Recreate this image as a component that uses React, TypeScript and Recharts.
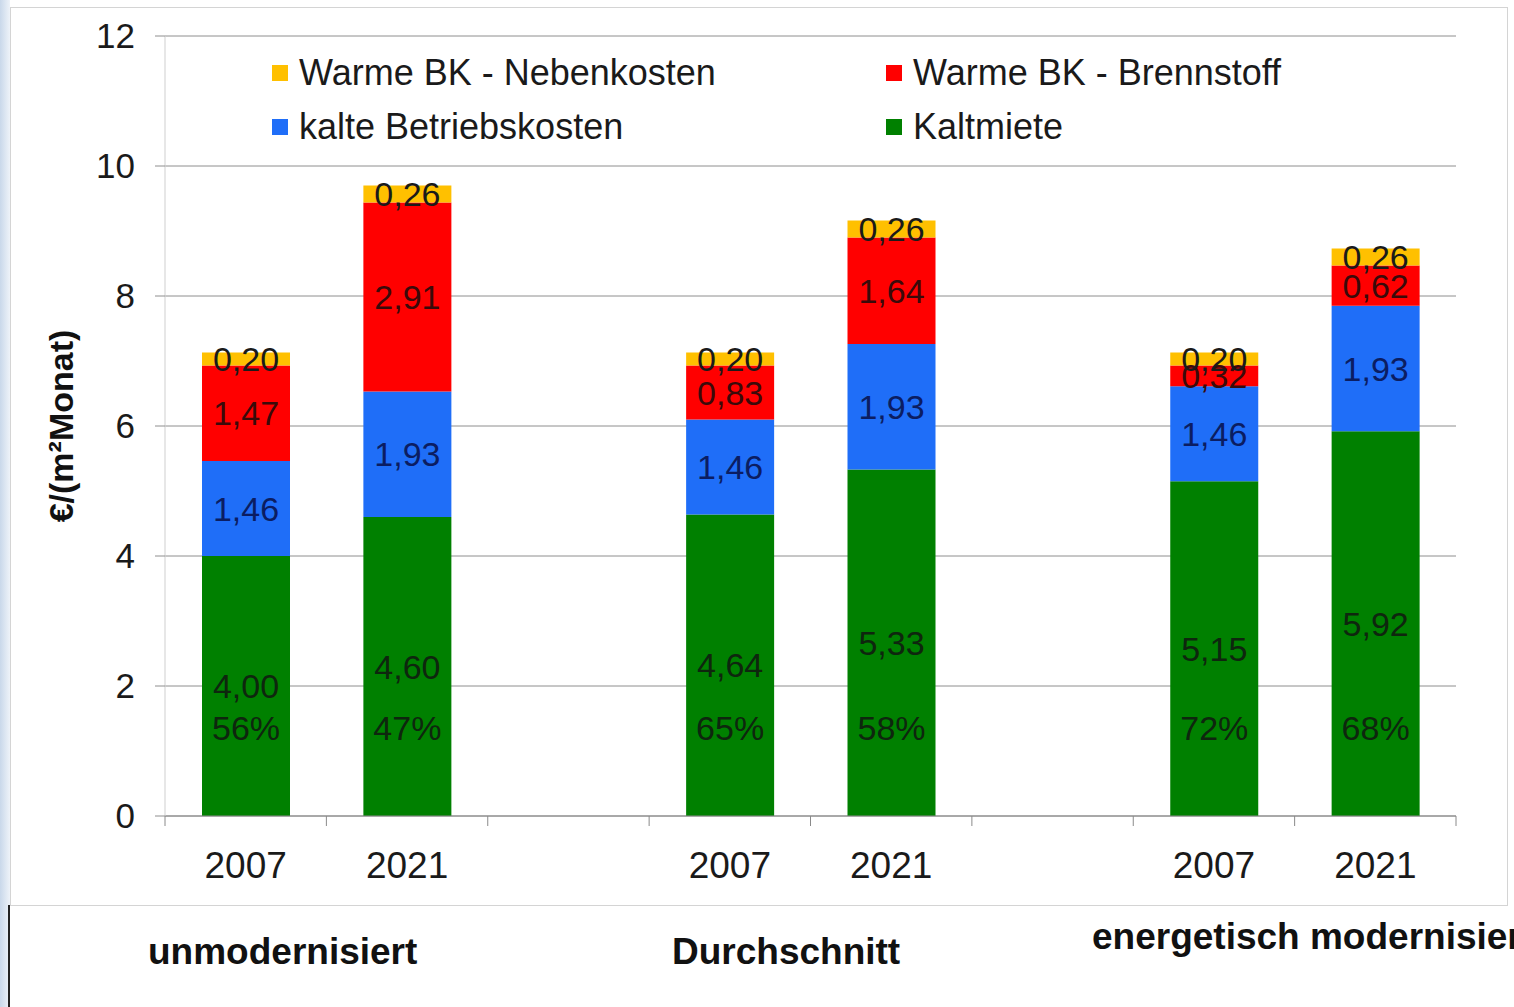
import { BarChart, Bar, XAxis, YAxis, CartesianGrid, Legend, LabelList } from "recharts";

const years = ["2007", "2021", "", "2007", "2021", "", "2007", "2021"];
const kaltmiete = [4.0, 4.6, null, 4.64, 5.33, null, 5.15, 5.92];
const kalteBK = [1.46, 1.93, null, 1.46, 1.93, null, 1.46, 1.93];
const brennstoff = [1.47, 2.91, null, 0.83, 1.64, null, 0.32, 0.62];
const nebenkosten = [0.2, 0.26, null, 0.2, 0.26, null, 0.2, 0.26];
const anteil = ["56%", "47%", "", "65%", "58%", "", "72%", "68%"];
const yTicks = [0, 2, 4, 6, 8, 10, 12];
const groups = ["unmodernisiert", "Durchschnitt", "energetisch modernisiert"];

const seriesKeys = ["kaltmiete", "kalteBK", "brennstoff", "nebenkosten"];
const seriesNames = ["Kaltmiete", "kalte Betriebskosten", "Warme BK - Brennstoff", "Warme BK - Nebenkosten"];
const seriesColors = ["#008000", "#1f6ef8", "#ff0000", "#ffc000"];
const labelColors = ["#0e260e", "#0b1d62", "#3a0a0a", "#1a1a1a"];
const legendOrder = [3, 2, 1, 0];

const data = years.map((year, i) => ({
  year,
  kaltmiete: kaltmiete[i],
  kalteBK: kalteBK[i],
  brennstoff: brennstoff[i],
  nebenkosten: nebenkosten[i],
  anteil: anteil[i],
}));

const FONT = "'Liberation Sans', Arial, sans-serif";

const fmt = (v: any) => (v == null || v === "" ? "" : Number(v).toFixed(2).replace(".", ","));

function YearTick(props: any) {
  const { x, y, payload, index, visibleTicksCount } = props;
  const half = payload && payload.offset ? payload.offset : 80.7;
  return (
    <g>
      <line x1={x - half} x2={x - half} y1={y} y2={y + 10} stroke="#8a8a8a" />
      {index === visibleTicksCount - 1 && (
        <line x1={x + half} x2={x + half} y1={y} y2={y + 10} stroke="#8a8a8a" />
      )}
      <text x={x} y={y + 62} textAnchor="middle" fontSize={37} fontFamily={FONT} fill="#1a1a1a">
        {payload.value}
      </text>
    </g>
  );
}

function LegendBox() {
  return (
    <div style={{ display: "grid", gridTemplateColumns: "614px 520px", fontFamily: FONT }}>
      {legendOrder.map((i) => (
        <div key={seriesKeys[i]} style={{ display: "flex", alignItems: "center", height: 54 }}>
          <span style={{ width: 16, height: 16, background: seriesColors[i], marginLeft: 2, marginRight: 11 }} />
          <span style={{ fontSize: 36, color: "#1a1a1a", whiteSpace: "nowrap" }}>{seriesNames[i]}</span>
        </div>
      ))}
    </div>
  );
}

const groupLabelStyle: React.CSSProperties = {
  position: "absolute",
  fontFamily: FONT,
  fontWeight: 700,
  fontSize: 37,
  color: "#111",
  whiteSpace: "nowrap",
};

export default function App() {
  return (
    <div style={{ position: "absolute", left: 0, top: 0, width: 1514, height: 1007, background: "#fff", overflow: "hidden" }}>
      <div style={{ position: "absolute", left: 0, top: 0, width: 10, height: 1007, background: "linear-gradient(to right, #c9d8ea, #eef3f9)" }} />
      <div style={{ position: "absolute", left: 10, top: 7, width: 1496, height: 897, border: "1px solid #d4d4d4", background: "#fff" }} />
      <div style={{ position: "absolute", left: 8, top: 905, width: 2, height: 102, background: "#222" }} />
      <div style={{ position: "absolute", left: 0, top: 0 }}>
        <BarChart
          width={1514}
          height={905}
          data={data}
          margin={{ top: 36, right: 58, bottom: 0, left: 0 }}
          barSize={88}
        >
          <CartesianGrid vertical={false} stroke="#8e8e8e" />
          <XAxis
            dataKey="year"
            interval={0}
            height={89}
            tickSize={0}
            tickMargin={0}
            tickLine={false}
            axisLine={{ stroke: "#8a8a8a" }}
            tick={<YearTick />}
          />
          <YAxis
            domain={[0, 12]}
            ticks={yTicks}
            width={165}
            tickSize={10}
            tickMargin={20}
            tickLine={{ stroke: "#8e8e8e" }}
            axisLine={{ stroke: "#cfcfcf" }}
            tick={{ fill: "#1a1a1a", fontSize: 35, fontFamily: FONT }}
            label={{
              value: "€/(m²Monat)",
              angle: -90,
              position: "center",
              dx: -22,
              style: { fontFamily: FONT, fontWeight: 700, fontSize: 34, fill: "#111" },
            }}
          />
          <Legend
            layout="vertical"
            align="center"
            verticalAlign="middle"
            wrapperStyle={{ top: 46, left: 270, width: 1200 }}
            content={() => <LegendBox />}
          />
          {seriesKeys.map((key, i) => (
            <Bar
              key={key}
              dataKey={key}
              name={seriesNames[i]}
              stackId="a"
              fill={seriesColors[i]}
              isAnimationActive={false}
            >
              <LabelList
                dataKey={key}
                position="center"
                formatter={fmt}
                style={{ fill: labelColors[i], fontSize: 34, fontFamily: FONT }}
              />
              {key === "kaltmiete" && (
                <LabelList
                  dataKey="anteil"
                  position="insideBottom"
                  offset={76}
                  style={{ fill: labelColors[i], fontSize: 34, fontFamily: FONT }}
                />
              )}
            </Bar>
          ))}
        </BarChart>
      </div>
      <div style={{ ...groupLabelStyle, left: 148, top: 931 }}>{groups[0]}</div>
      <div style={{ ...groupLabelStyle, left: 672, top: 931 }}>{groups[1]}</div>
      <div style={{ ...groupLabelStyle, left: 1092, top: 916 }}>{groups[2]}</div>
    </div>
  );
}
